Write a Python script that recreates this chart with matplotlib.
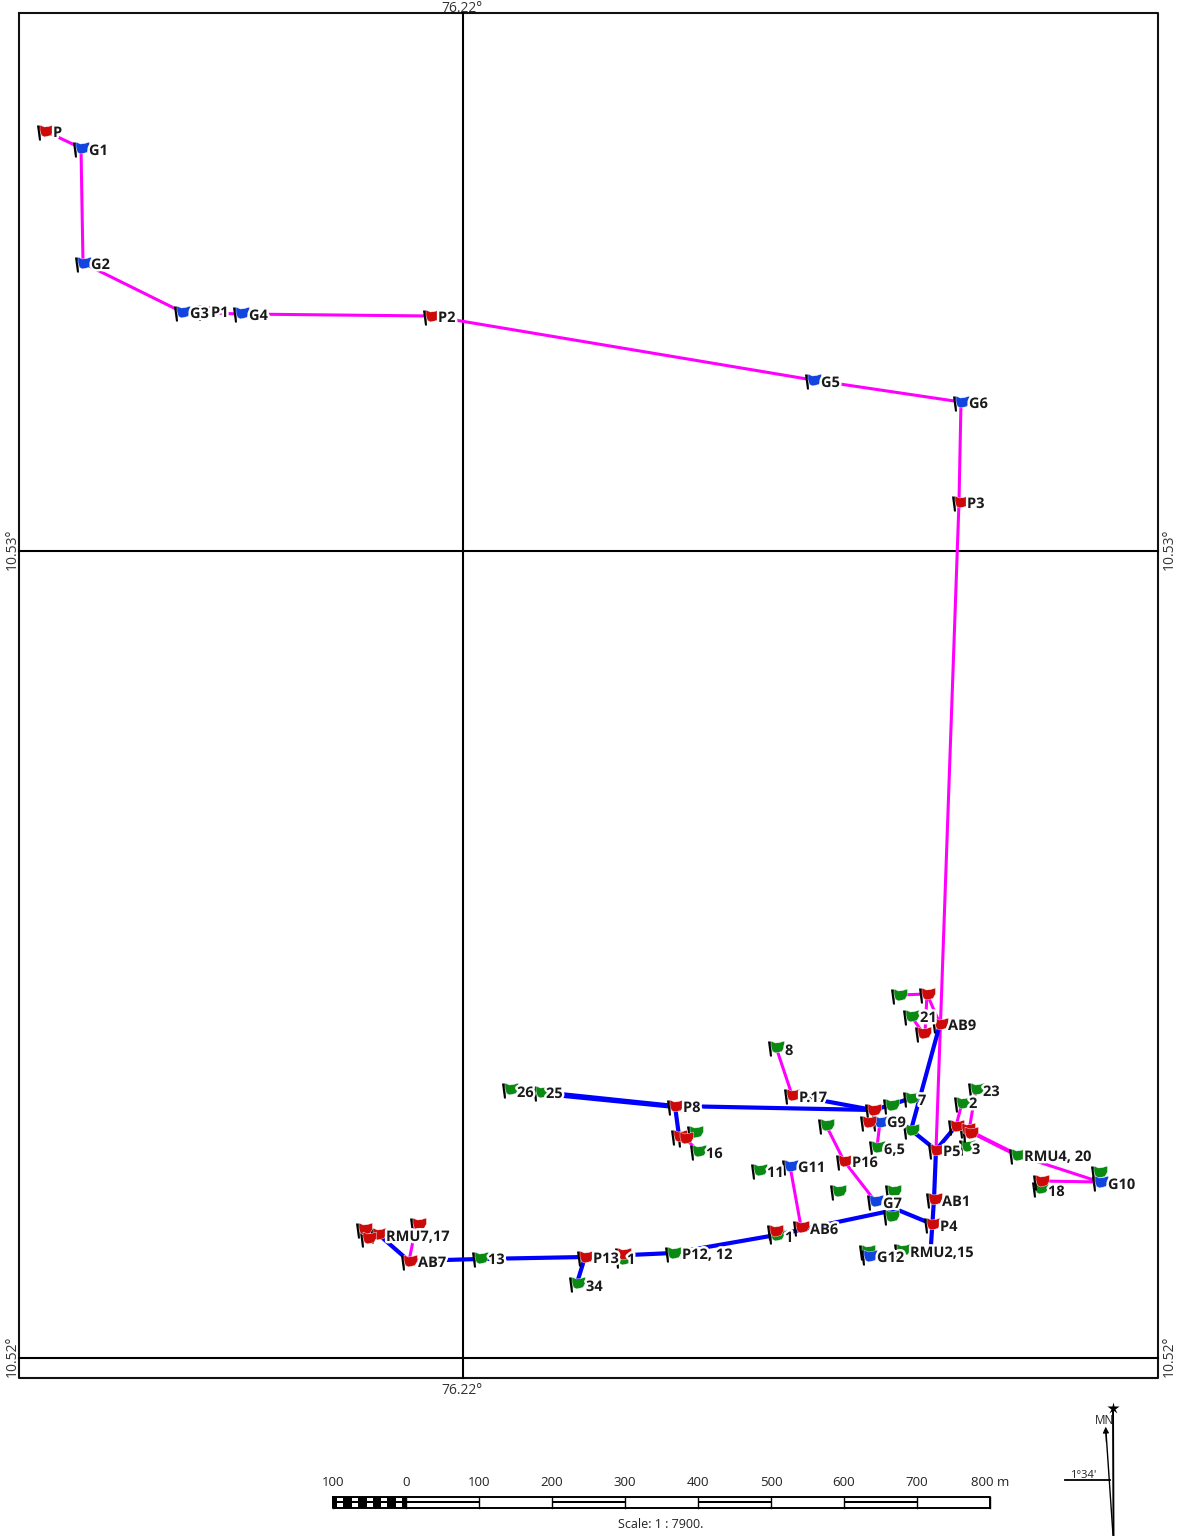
"""
plot.py - route map with flags, labelled nodes, scale bar and north arrow.
Positions are read off the picture in pixels (axes span the whole figure).
"""

import matplotlib
matplotlib.use("Agg")
import matplotlib.patheffects as pe
import matplotlib.pyplot as plt
from matplotlib.path import Path

plt.rcParams["font.family"] = ["Open Sans", "DejaVu Sans"]

W, H = 1177, 1538

# map frame and graticule
FRAME_X = [19, 1158]
FRAME_Y = [13, 1378]
GRID_X = [463]
GRID_Y = [551, 1358]

# flags: (x, y)
RED_FLAGS = [
    (45, 131), (205, 311), (431, 316), (960, 502), (940, 1024), (927, 994), (923, 1033),
    (675, 1106), (792, 1095), (868, 1122), (873, 1110), (844, 1161), (936, 1150),
    (956, 1126), (967, 1129), (970, 1133), (934, 1199), (932, 1224), (1041, 1181),
    (679, 1136), (685, 1138), (801, 1227), (775, 1231), (409, 1261), (364, 1229),
    (378, 1234), (368, 1238), (418, 1224), (585, 1257), (623, 1254),
]
GREEN_FLAGS = [
    (911, 1016), (899, 995), (776, 1047), (510, 1089), (541, 1092), (891, 1105),
    (911, 1098), (911, 1130), (976, 1089), (962, 1103), (967, 1146), (877, 1147),
    (826, 1125), (695, 1132), (698, 1151), (759, 1170), (838, 1191), (893, 1191),
    (891, 1216), (1017, 1155), (1099, 1172), (1040, 1188), (867, 1251), (902, 1250),
    (480, 1258), (673, 1253), (577, 1283), (776, 1235), (623, 1259),
]
BLUE_FLAGS = [
    (81, 148), (83, 263), (182, 312), (241, 313), (813, 380), (961, 402),
    (880, 1122), (790, 1166), (875, 1201), (1100, 1182), (869, 1256),
]

# routes
MAGENTA_ROUTES = [
    [(45, 131), (81, 148), (83, 263), (182, 312), (241, 314), (431, 316),
     (813, 380), (961, 402), (959, 502), (936, 1150)],
    [(899, 995), (927, 994), (940, 1024)],
    [(927, 994), (925, 1033)],
    [(911, 1016), (923, 1033)],
    [(776, 1047), (792, 1095)],
    [(826, 1125), (844, 1161), (875, 1201)],
    [(880, 1122), (877, 1147)],
    [(790, 1166), (801, 1227)],
    [(759, 1170), (790, 1166)],
    [(976, 1089), (969, 1131)],
    [(962, 1103), (956, 1126)],
    [(1017, 1155), (1100, 1182), (1041, 1181)],
    [(685, 1138), (698, 1151)],
    [(409, 1261), (416, 1226)],
]
MAGENTA_THICK = [(969, 1131), (1017, 1155)]
BLUE_ROUTES = [
    [(368, 1238), (378, 1234), (409, 1261), (480, 1259), (585, 1257), (673, 1253),
     (776, 1235), (885, 1212), (898, 1210), (932, 1224)],
    [(585, 1257), (577, 1283)],
    [(936, 1150), (934, 1199), (931, 1245)],
    [(956, 1126), (936, 1150), (911, 1130), (940, 1024)],
    [(541, 1092), (675, 1106), (873, 1110), (891, 1105), (911, 1098)],
    [(544, 1094), (675, 1107)],
    [(792, 1095), (873, 1110)],
    [(675, 1106), (679, 1136)],
]

# node labels: (x of left edge, y centre, text)
NODE_LABELS = [
    (53, 133, "P"), (89, 151, "G1"), (91, 265, "G2"), (190, 314, "G3"), (211, 313, "P1"),
    (249, 316, "G4"), (438, 318, "P2"), (821, 383, "G5"), (969, 404, "G6"), (967, 504, "P3"),
    (920, 1018, "21"), (948, 1026, "AB9"), (785, 1051, "8"), (799, 1098, "P.17"),
    (683, 1108, "P8"), (517, 1093, "26"), (546, 1094, "25"), (918, 1101, "7"),
    (983, 1092, "23"), (969, 1104, "2"), (887, 1123, "G9"), (884, 1150, "6,5"),
    (943, 1152, "P5"), (972, 1150, "3"), (852, 1163, "P16"), (706, 1154, "16"),
    (767, 1173, "11"), (798, 1168, "G11"), (1024, 1157, "RMU4, 20"), (1108, 1185, "G10"),
    (1048, 1192, "18"), (883, 1204, "G7"), (942, 1202, "AB1"), (940, 1227, "P4"),
    (810, 1230, "AB6"), (785, 1238, "1"), (386, 1237, "RMU7,17"), (418, 1263, "AB7"),
    (488, 1260, "13"), (593, 1259, "P13"), (627, 1260, "1"), (682, 1255, "P12, 12"),
    (586, 1287, "34"), (877, 1258, "G12"), (910, 1253, "RMU2,15"),
]

# scale bar
SCALE_TICKS = [333, 406, 479, 552, 625, 698, 771, 844, 917, 990]
SCALE_LABELS = ["100", "0", "100", "200", "300", "400", "500", "600", "700", "800 m"]

FLAG_PATH = Path(
    [(-5.5, 6.5), (-1, 4.5), (3, 5), (8, 6.5), (8, 0.5), (5.5, -4), (-1, -5.5), (-4, -4),
     (-5.5, 1), (-5.5, 6.5)],
    closed=True,
)
POLE_PATH = Path([(-8.5, 6), (-6.5, -9), (-4.5, -9), (-5.5, 6), (-8.5, 6)], closed=True)


def px_marker_size(path):
    # matplotlib rescales custom markers to their largest coordinate
    return 2 * abs(path.vertices).max() * 0.72


def draw_flags(ax, flags, color, z):
    xs = [f[0] for f in flags]
    ys = [f[1] for f in flags]
    ax.plot(xs, ys, ls="none", marker=POLE_PATH, ms=px_marker_size(POLE_PATH),
            mfc="black", mec="none", zorder=z)
    ax.plot(xs, ys, ls="none", marker=FLAG_PATH, ms=px_marker_size(FLAG_PATH),
            mfc=color, mec="white", mew=0.3, zorder=z + 0.1)


def draw_route(ax, pts, color, lw, z=3):
    ax.plot([p[0] for p in pts], [p[1] for p in pts], color=color, lw=lw,
            solid_capstyle="round", solid_joinstyle="round", zorder=z)


def draw_scale_bar(ax):
    top, bottom = 1496.5, 1507.5
    mid = (top + bottom) / 2
    left, zero, right = SCALE_TICKS[0], SCALE_TICKS[1], SCALE_TICKS[-1]
    ax.plot([left, right, right, left, left], [top, top, bottom, bottom, top],
            color="black", lw=1.4, zorder=5)
    for x in SCALE_TICKS:
        ax.plot([x, x], [top, bottom], color="black", lw=1.0, zorder=5)
    # left part: small checks, 10 m cells
    step = (zero - left) / 10
    ax.fill_between([left, zero], top, bottom, color="black", lw=0, zorder=4)
    for i in range(1, 10, 2):
        x0 = left + i * step
        ax.fill_between([x0 - 3, x0 + 3], top + 1, mid - 1, color="white", lw=0, zorder=4.5)
        ax.fill_between([x0 - 3, x0 + 3], mid + 1, bottom - 1, color="white", lw=0, zorder=4.5)
    # every other full segment has a double line
    for a, b in zip(SCALE_TICKS[1:-1:2], SCALE_TICKS[2::2]):
        ax.fill_between([a, b], mid - 1.1, mid + 1.1, color="black", lw=0, zorder=4)
    for x, s in zip(SCALE_TICKS, SCALE_LABELS):
        ax.text(x, 1483, s, ha="center", va="center", fontsize=9.5, color="#222222")
    ax.text(661, 1525, "Scale: 1 : 7900.", ha="center", va="center", fontsize=9,
            color="#222222")


def draw_north_arrow(ax):
    ax.plot([1113, 1113.5], [1408, 1535], color="black", lw=1.4, zorder=5)
    ax.plot([1113, 1106], [1535, 1432], color="black", lw=1.0, zorder=5)
    ax.annotate("", xy=(1105.5, 1424), xytext=(1106.5, 1445),
                arrowprops=dict(arrowstyle="-|>", color="black", lw=0.8, mutation_scale=9))
    ax.plot([1113], [1408], marker="*", ms=9, color="black", mec="none", zorder=6)
    ax.plot([1065, 1110], [1480, 1480], color="black", lw=1.3, zorder=5)
    ax.text(1104, 1421, "MN", ha="center", va="center", fontsize=8.5, color="#222222")
    ax.text(1083, 1475, "1°34'", ha="center", va="center", fontsize=8, color="#222222")


def main():
    fig = plt.figure(figsize=(W / 100, H / 100), dpi=100)
    ax = fig.add_axes([0, 0, 1, 1])
    ax.set_xlim(0, W)
    ax.set_ylim(H, 0)
    ax.axis("off")

    x0, x1 = FRAME_X
    y0, y1 = FRAME_Y
    ax.plot([x0, x1, x1, x0, x0], [y0, y0, y1, y1, y0], color="#111111", lw=1.5, zorder=2)
    for x in GRID_X:
        ax.plot([x, x], [y0, y1], color="black", lw=1.5, zorder=2)
    for y in GRID_Y:
        ax.plot([x0, x1], [y, y], color="black", lw=1.5, zorder=2)

    grid_text = dict(ha="center", va="center", fontsize=10, color="#333333")
    ax.text(462, 8, "76.22°", **grid_text)
    ax.text(462, 1390, "76.22°", **grid_text)
    for y, s in zip(GRID_Y, ["10.53°", "10.52°"]):
        ax.text(12, y - 2, s, rotation=90, **grid_text)
        ax.text(1169, y - 2, s, rotation=90, **grid_text)

    for pts in MAGENTA_ROUTES:
        draw_route(ax, pts, "#ff00ff", 2.2)
    draw_route(ax, MAGENTA_THICK, "#ff00ff", 3.0)
    for pts in BLUE_ROUTES:
        draw_route(ax, pts, "#0000ff", 3.0)

    draw_flags(ax, GREEN_FLAGS, "#0a8a12", 7)
    draw_flags(ax, BLUE_FLAGS, "#1244e0", 8)
    draw_flags(ax, RED_FLAGS, "#cc0a0a", 9)

    # labels sit above the flags, the white halo cuts lines and flags behind them
    halo = [pe.withStroke(linewidth=3.5, foreground="white")]
    for x, y, s in NODE_LABELS:
        ax.text(x, y, s, ha="left", va="center", fontsize=10.5, fontweight="bold",
                color="#1a1a1a", path_effects=halo, zorder=11)

    draw_scale_bar(ax)
    draw_north_arrow(ax)

    fig.savefig("out.png", dpi=100, facecolor="white")
    plt.close(fig)


if __name__ == "__main__":
    main()
